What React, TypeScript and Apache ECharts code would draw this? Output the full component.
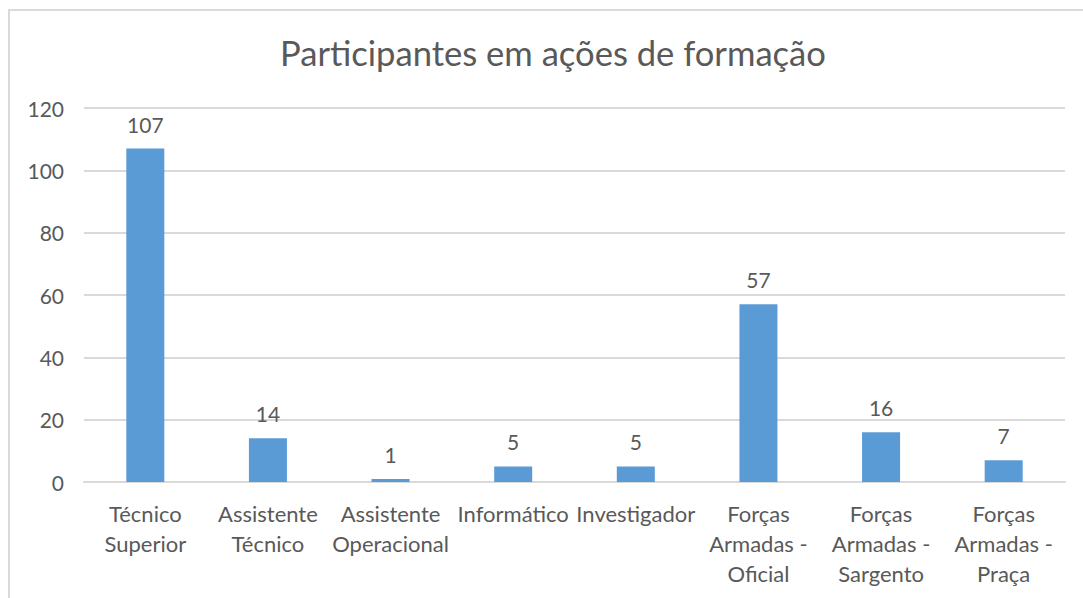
import React, { useEffect, useRef } from "react";
import * as echarts from "echarts";

const categories = [
  "Técnico\nSuperior",
  "Assistente\nTécnico",
  "Assistente\nOperacional",
  "Informático",
  "Investigador",
  "Forças\nArmadas -\nOficial",
  "Forças\nArmadas -\nSargento",
  "Forças\nArmadas -\nPraça",
];
const values = [107, 14, 1, 5, 5, 57, 16, 7];
const title = "Participantes em ações de formação";

const FONT = "Lato";
const TEXT = "#595959";

export default function App() {
  const ref = useRef<HTMLDivElement>(null);
  useEffect(() => {
    const chart = echarts.init(ref.current!, null, { renderer: "svg" });
    chart.setOption({
      animation: false,
      backgroundColor: "#ffffff",
      title: {
        text: title,
        left: 275,
        top: 30,
        textStyle: { fontFamily: FONT, fontSize: 34.6, fontWeight: "normal", color: TEXT },
      },
      graphic: [
        {
          type: "rect",
          shape: { x: 9, y: 10, width: 1200, height: 700 },
          style: { fill: "none", stroke: "#d9d9d9", lineWidth: 2 },
          silent: true,
        },
      ],
      grid: { left: 84, right: 18, top: 108, bottom: 116 },
      xAxis: {
        type: "category",
        data: categories,
        axisLine: { show: true, lineStyle: { color: "#d9d9d9", width: 2 } },
        axisTick: { show: false },
        axisLabel: {
          interval: 0,
          margin: 16,
          fontFamily: FONT,
          fontSize: 22,
          lineHeight: 30,
          color: TEXT,
        },
      },
      yAxis: {
        type: "value",
        min: 0,
        max: 120,
        interval: 20,
        axisLine: { show: false },
        axisTick: { show: false },
        splitLine: { lineStyle: { color: "#d9d9d9", width: 2 } },
        axisLabel: { margin: 20, fontFamily: FONT, fontSize: 21, color: TEXT },
      },
      series: [
        {
          type: "bar",
          data: values,
          barWidth: "31%",
          itemStyle: { color: "#5B9BD5" },
          label: {
            show: true,
            position: "top",
            distance: 14,
            fontFamily: FONT,
            fontSize: 21,
            color: TEXT,
          },
        },
      ],
    });
    return () => chart.dispose();
  }, []);
  return (
    <div
      ref={ref}
      style={{ position: "fixed", left: 0, top: 0, width: 1083, height: 598 }}
    />
  );
}
